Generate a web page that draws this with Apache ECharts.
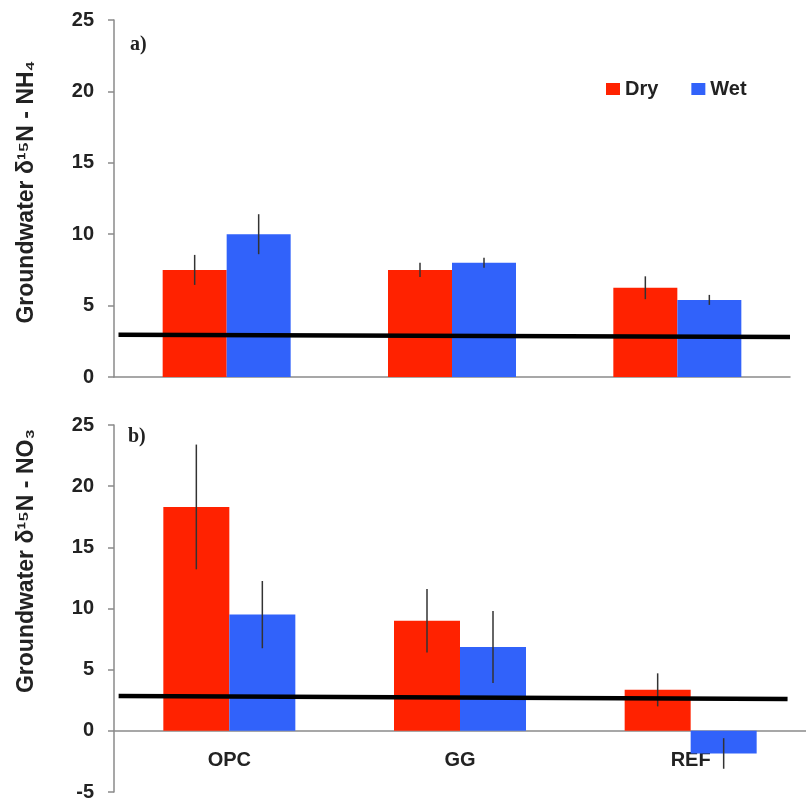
<!DOCTYPE html>
<html>
<head>
<meta charset="utf-8">
<script src="https://cdn.jsdelivr.net/npm/echarts@6/dist/echarts.min.js"></script>
<style>html,body{margin:0;padding:0;background:#fff;}#c{width:806px;height:806px;}</style>
</head>
<body>
<div id="c"></div>
<script>
const categories = ['OPC', 'GG', 'REF'];
const nh4Dry = [7.5, 7.5, 6.25];
const nh4DryErr = [1.05, 0.5, 0.8];
const nh4Wet = [10.0, 8.0, 5.4];
const nh4WetErr = [1.4, 0.35, 0.35];
const no3Dry = [18.3, 9.0, 3.35];
const no3DryErr = [5.1, 2.6, 1.35];
const no3Wet = [9.5, 6.85, -1.85];
const no3WetErr = [2.75, 2.95, 1.25];
const refLineTop = [[0.02, 2.95], [3.0, 2.8]];
const refLineBottom = [[0.02, 2.85], [2.92, 2.6]];
const seriesNames = ['Dry', 'Wet'];
const titleTop = 'Groundwater δ¹⁵N - NH₄';
const titleBottom = 'Groundwater δ¹⁵N - NO₃';
const panelLabels = ['a)', 'b)'];

const RED = '#FF2200', BLUE = '#3162FA';
const FONT = '"Liberation Sans", Arial, sans-serif';
const axisGray = '#8a8a8a';

function errData(vals, errs, side) {
  return vals.map((v, i) => [i, v - errs[i], v + errs[i], side]);
}
function errSeries(xi, yi, vals, errs, side, bw) {
  return {
    type: 'custom', xAxisIndex: xi, yAxisIndex: yi, z: 5,
    encode: { x: 0, y: [1, 2] },
    data: errData(vals, errs, side),
    renderItem: function (params, api) {
      const i = api.value(0);
      const lo = api.coord([i, api.value(1)]);
      const hi = api.coord([i, api.value(2)]);
      const off = api.value(3) * bw / 2;
      return { type: 'line', shape: { x1: lo[0] + off, y1: lo[1], x2: hi[0] + off, y2: hi[1] },
        style: { stroke: '#333', lineWidth: 1.5 } };
    }
  };
}
const yLabel = { fontFamily: FONT, fontWeight: 'bold', fontSize: 20, color: '#222', margin: 20 };
function valueY(gi, min) {
  return { type: 'value', gridIndex: gi, min: min, max: 25, interval: 5,
    axisLine: { show: true, lineStyle: { color: axisGray, width: 1.5 } },
    axisTick: { show: true, length: 6, lineStyle: { color: axisGray, width: 1.5 } },
    splitLine: { show: false }, axisLabel: yLabel };
}
const chart = echarts.init(document.getElementById('c'));
chart.setOption({
  animation: false,
  backgroundColor: '#fff',
  grid: [
    { left: 114, top: 20, width: 676, height: 357, outerBoundsMode: 'none', containLabel: false },
    { left: 114, top: 425, width: 692, height: 367, outerBoundsMode: 'none', containLabel: false }
  ],
  legend: {
    data: seriesNames, left: 601, top: 74, itemWidth: 14, itemHeight: 12, itemGap: 33, icon: 'rect',
    textStyle: { fontFamily: FONT, fontWeight: 'bold', fontSize: 20, color: '#222' }
  },
  xAxis: [
    { type: 'category', gridIndex: 0, data: categories,
      axisLine: { lineStyle: { color: axisGray, width: 1.5 } },
      axisTick: { length: 6, lineStyle: { color: axisGray, width: 1.5 } },
      axisLabel: { show: false } },
    { type: 'value', gridIndex: 0, min: 0, max: 3, show: false },
    { type: 'category', gridIndex: 1, data: categories,
      axisLine: { onZero: true, lineStyle: { color: axisGray, width: 1.5 } },
      axisTick: { length: 6, lineStyle: { color: axisGray, width: 1.5 } },
      axisLabel: { fontFamily: FONT, fontWeight: 'bold', fontSize: 20, color: '#222', margin: -42 } },
    { type: 'value', gridIndex: 1, min: 0, max: 3, show: false }
  ],
  yAxis: [ valueY(0, 0), valueY(1, -5) ],
  series: [
    { name: 'Dry', type: 'bar', xAxisIndex: 0, yAxisIndex: 0, data: nh4Dry, barWidth: 64, barGap: '0%', itemStyle: { color: RED } },
    { name: 'Wet', type: 'bar', xAxisIndex: 0, yAxisIndex: 0, data: nh4Wet, barWidth: 64, barGap: '0%', itemStyle: { color: BLUE } },
    { name: 'Dry', type: 'bar', xAxisIndex: 2, yAxisIndex: 1, data: no3Dry, barWidth: 66, barGap: '0%', itemStyle: { color: RED } },
    { name: 'Wet', type: 'bar', xAxisIndex: 2, yAxisIndex: 1, data: no3Wet, barWidth: 66, barGap: '0%', itemStyle: { color: BLUE } },
    errSeries(0, 0, nh4Dry, nh4DryErr, -1, 64),
    errSeries(0, 0, nh4Wet, nh4WetErr, 1, 64),
    errSeries(2, 1, no3Dry, no3DryErr, -1, 66),
    errSeries(2, 1, no3Wet, no3WetErr, 1, 66),
    { type: 'line', xAxisIndex: 1, yAxisIndex: 0, data: refLineTop, symbol: 'none', z: 10,
      lineStyle: { color: '#000', width: 4.5 } },
    { type: 'line', xAxisIndex: 3, yAxisIndex: 1, data: refLineBottom, symbol: 'none', z: 10,
      lineStyle: { color: '#000', width: 4.5 } }
  ],
  graphic: [
    { type: 'text', x: 27, y: 192, rotation: Math.PI / 2,
      style: { text: titleTop, font: 'bold 23px ' + FONT, fill: '#222', textAlign: 'center', textVerticalAlign: 'middle' } },
    { type: 'text', x: 27, y: 561, rotation: Math.PI / 2,
      style: { text: titleBottom, font: 'bold 23px ' + FONT, fill: '#222', textAlign: 'center', textVerticalAlign: 'middle' } },
    { type: 'text', x: 130, y: 45,
      style: { text: panelLabels[0], font: 'bold 20px "Liberation Serif", "Times New Roman", serif', fill: '#222', textAlign: 'left', textVerticalAlign: 'middle' } },
    { type: 'text', x: 128, y: 437,
      style: { text: panelLabels[1], font: 'bold 20px "Liberation Serif", "Times New Roman", serif', fill: '#222', textAlign: 'left', textVerticalAlign: 'middle' } }
  ]
});
</script>
</body>
</html>
